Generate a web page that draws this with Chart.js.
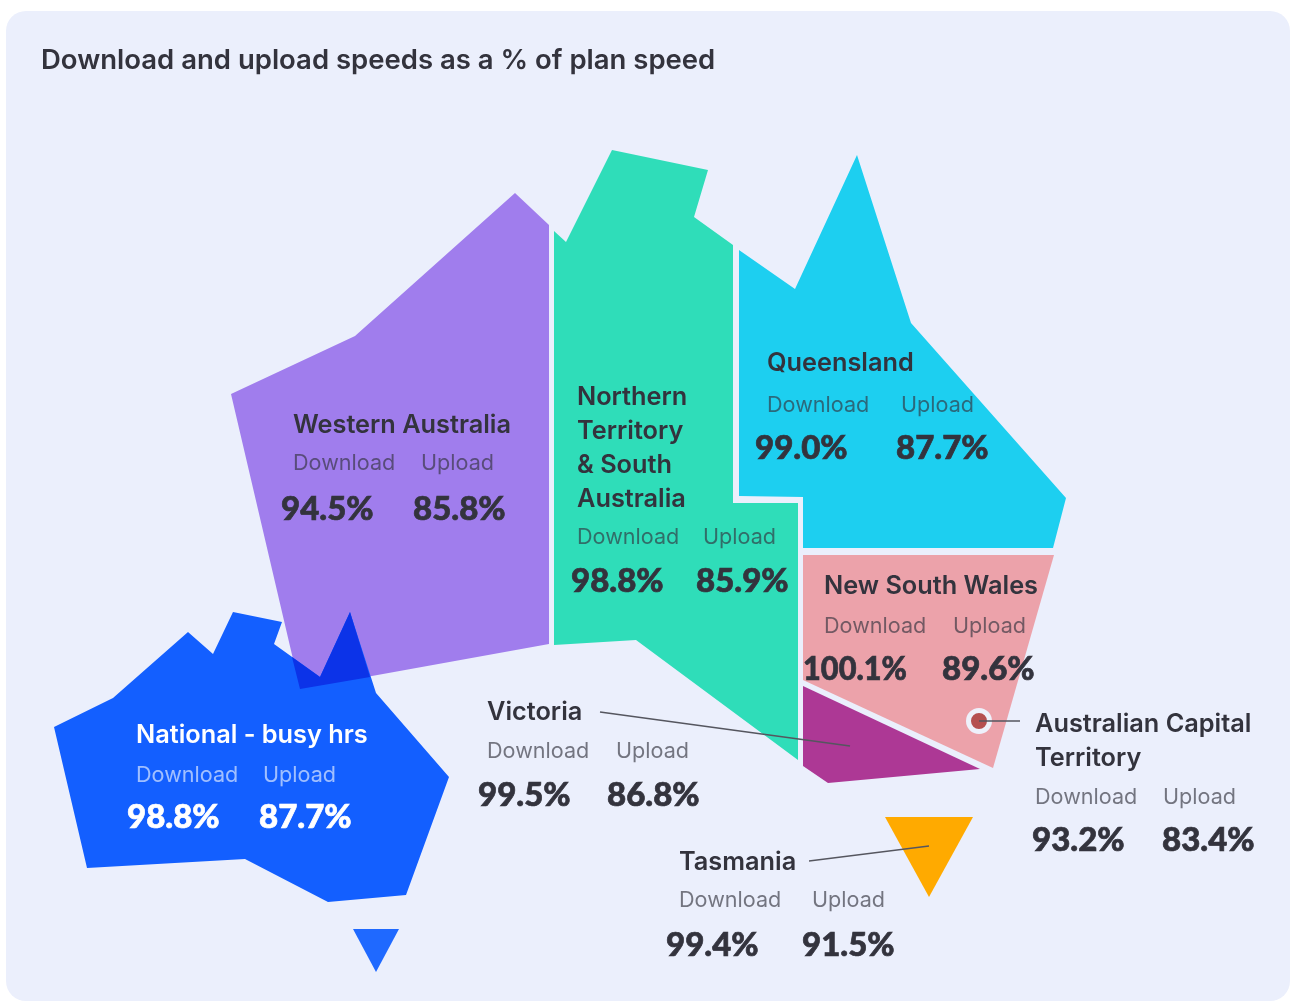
<!DOCTYPE html>
<html>
<head>
<meta charset="utf-8">
<title>Download and upload speeds</title>
<script src="https://cdn.jsdelivr.net/npm/chart.js@4/dist/chart.umd.min.js"></script>
<style>
  html, body { margin: 0; padding: 0; background: #fff; width: 1290px; height: 1001px; overflow: hidden; }
  #panel { position: absolute; left: 6px; top: 11px; width: 1284px; height: 990px; background: #ebeffc; border-radius: 20px; }
  #map { position: absolute; left: 0; top: 0; }
</style>
</head>
<body>
<div id="panel"></div>
<canvas id="map" width="1290" height="1001"></canvas>
<script>
// 차트 데이터
const chartTitle = 'Download and upload speeds as a % of plan speed';
const regionNames = ['Western Australia', 'Northern Territory & South Australia', 'Queensland', 'New South Wales', 'Australian Capital Territory', 'Victoria', 'Tasmania', 'National - busy hrs'];
const downloadPct = [94.5, 98.8, 99.0, 100.1, 93.2, 99.5, 99.4, 98.8];
const uploadPct = [85.8, 85.9, 87.7, 89.6, 83.4, 86.8, 91.5, 87.7];

// 지도 윤곽
const outlineWA = [[515,193],[549,225],[549,644],[300,689],[231,394],[355,336]];
const outlineNT = [[554,231],[566,242],[612,150],[708,170],[694,217],[733,245],[733,503],[798,503],[798,760],[636,640],[554,645]];
const outlineQLD = [[739,250],[795,289],[857,155],[911,323],[1066,498],[1053,548],[803,548],[803,497],[739,496]];
const outlineNSW = [[803,555],[1054,555],[993,768],[803,680]];
const outlineVIC = [[803,686],[980,769],[828,783],[803,766]];
const outlineTAS = [[885,817],[973,817],[929,897]];
const outlineNational = [[54,727],[113,698],[188,632],[213,654],[233,612],[282,622],[274,644],[320,677],[350,612],[376,693],[449,777],[406,895],[328,902],[245,859],[87,868]];
const outlineNationalTas = [[353,929],[399,929],[376,972]];
const outlineOverlap = [[292,657],[320,677],[350,612],[370,677],[300,689]];

// 지시선
const leaderVIC = [[600,712],[850,746]];
const leaderTAS = [[809,861],[929,846]];
const leaderACT = [[979,721],[1020,721]];
const markerACT = [[979,721]];

const toPoints = arr => arr.map(p => ({ x: p[0], y: p[1] }));

// 폴리곤 데이터셋
function shape(label, outline, color) {
    return {
        label: label,
        data: toPoints(outline),
        showLine: true,
        fill: 'shape',
        backgroundColor: color,
        borderWidth: 0,
        pointRadius: 0,
        tension: 0
    };
}

function leader(label, pts) {
    return {
        label: label,
        data: toPoints(pts),
        showLine: true,
        fill: false,
        borderColor: '#55565f',
        borderWidth: 1.5,
        pointRadius: 0
    };
}

// 뒤에서 앞 순서로
const datasets = [
    shape('Western Australia', outlineWA, '#a07ded'),
    shape('Northern Territory & South Australia', outlineNT, '#2fddb9'),
    shape('Queensland', outlineQLD, '#1dcff0'),
    shape('New South Wales', outlineNSW, '#eca2aa'),
    shape('Victoria', outlineVIC, '#ad3895'),
    shape('Tasmania', outlineTAS, '#ffaa00'),
    shape('National', outlineNational, '#135fff'),
    shape('National Tasmania', outlineNationalTas, '#1f69ff'),
    shape('Overlap', outlineOverlap, '#0c33e8'),
    {
        label: 'ACT',
        data: toPoints(markerACT),
        pointRadius: 10.5,
        pointBackgroundColor: '#b55050',
        pointBorderColor: '#eef1fb',
        pointBorderWidth: 5,
        showLine: false
    },
    leader('Victoria leader', leaderVIC),
    leader('Tasmania leader', leaderTAS),
    leader('ACT leader', leaderACT)
];
datasets.forEach((d, i) => { d.order = datasets.length - i; d.clip = false; });

// 라벨 위치: x, 이름 기준선들, 다운로드/업로드 x, 값 x
const labelLayout = [
    { nameLines: ['Western Australia'], x: 293, nameY: [433], subY: 470, upX: 421, valY: 520, dlValX: 281, upValX: 413 },
    { nameLines: ['Northern', 'Territory', '& South', 'Australia'], x: 577, nameY: [405, 439, 473, 507], subY: 544, upX: 703, valY: 592, dlValX: 571, upValX: 696 },
    { nameLines: ['Queensland'], x: 767, nameY: [371], subY: 412, upX: 901, valY: 459, dlValX: 755, upValX: 896 },
    { nameLines: ['New South Wales'], x: 824, nameY: [594], subY: 633, upX: 953, valY: 680, dlValX: 803, upValX: 942 },
    { nameLines: ['Australian Capital', 'Territory'], x: 1035, nameY: [732, 766], subY: 804, upX: 1163, valY: 851, dlValX: 1032, upValX: 1162 },
    { nameLines: ['Victoria'], x: 487, nameY: [720], subY: 758, upX: 616, valY: 806, dlValX: 478, upValX: 607 },
    { nameLines: ['Tasmania'], x: 679, nameY: [870], subY: 907, upX: 812, valY: 956, dlValX: 666, upValX: 802 },
    { nameLines: ['National - busy hrs'], x: 136, nameY: [743], subY: 782, upX: 263, valY: 828, dlValX: 127, upValX: 259, light: true }
];

const FONT = 'Inter, "Noto Sans", sans-serif';
const VALUE_FONT = 'Lato, Inter, sans-serif';

// 텍스트 그리는 플러그인
const textPlugin = {
    id: 'mapText',
    afterDraw(chart) {
        const ctx = chart.ctx;
        const sx = chart.scales.x, sy = chart.scales.y;
        const put = (text, x, y) => ctx.fillText(text, sx.getPixelForValue(x), sy.getPixelForValue(y));
        // 값 텍스트: 조금 더 굵게, 100.1%는 폭 제한
        const putValue = (text, x, y) => {
            const px = sx.getPixelForValue(x), py = sy.getPixelForValue(y);
            ctx.strokeText(text, px, py, 104);
            ctx.fillText(text, px, py, 104);
        };
        ctx.save();
        ctx.textBaseline = 'alphabetic';
        ctx.textAlign = 'left';

        ctx.fillStyle = '#33333d';
        ctx.font = '600 27.5px ' + FONT;
        put(chartTitle, 41, 69);

        labelLayout.forEach((l, i) => {
            const main = l.light ? '#ffffff' : '#33333d';
            ctx.fillStyle = main;
            ctx.font = '600 25.3px ' + FONT;
            l.nameLines.forEach((line, j) => put(line, l.x, l.nameY[j]));

            ctx.fillStyle = l.light ? 'rgba(255,255,255,0.6)' : 'rgba(51,51,61,0.65)';
            ctx.font = '400 21.6px ' + FONT;
            put('Download', l.x, l.subY);
            put('Upload', l.upX, l.subY);

            ctx.fillStyle = main;
            ctx.strokeStyle = main;
            ctx.lineWidth = 0.7;
            ctx.font = '900 33px ' + VALUE_FONT;
            putValue(downloadPct[i].toFixed(1) + '%', l.dlValX, l.valY);
            putValue(uploadPct[i].toFixed(1) + '%', l.upValX, l.valY);
        });
        ctx.restore();
    }
};

new Chart(document.getElementById('map'), {
    type: 'scatter',
    data: { datasets: datasets },
    options: {
        responsive: false,
        animation: false,
        layout: { padding: 0, autoPadding: false },
        plugins: { legend: { display: false }, tooltip: { enabled: false }, title: { display: false } },
        scales: {
            x: { type: 'linear', display: false, min: 0, max: 1290 },
            y: { type: 'linear', display: false, min: 0, max: 1001, reverse: true }
        }
    },
    plugins: [textPlugin]
});
</script>
</body>
</html>
